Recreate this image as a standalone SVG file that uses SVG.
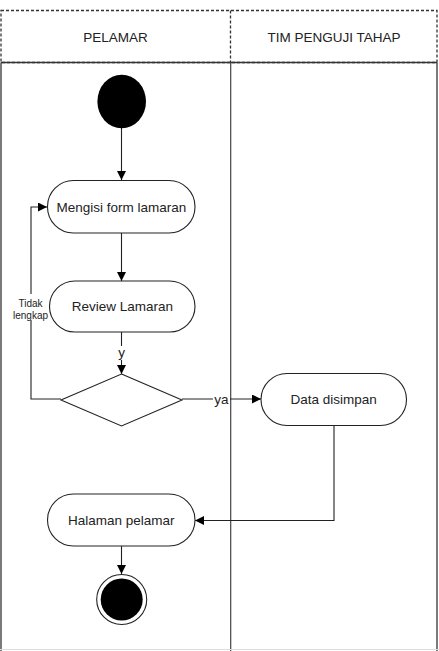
<svg xmlns="http://www.w3.org/2000/svg" width="439" height="651" viewBox="0 0 439 651">
<style>
text{font-family:"Liberation Sans",Arial,sans-serif;fill:#222;}
.lbl{font-size:13.5px;text-anchor:middle;dominant-baseline:central;}
.sm{font-size:10px;text-anchor:middle;}
.node{fill:#fff;stroke:#222;stroke-width:1.1;}
.edge{fill:none;stroke:#222;stroke-width:1.1;}
.lane{fill:none;stroke:#333;stroke-width:1.3;}
.dash{fill:none;stroke:#333;stroke-width:1.3;stroke-dasharray:3,2;}
</style>
<defs>
<marker id="arr" viewBox="0 0 10 10" refX="10" refY="5" markerWidth="9" markerHeight="9" markerUnits="userSpaceOnUse" orient="auto">
<path d="M0,0 L10,5 L0,10 z" fill="#000"/>
</marker>
</defs>
<rect width="439" height="651" fill="#fff"/>
<g id="swimlanes">
<rect x="1" y="10.5" width="436" height="52" class="dash"/>
<line x1="230.5" y1="10.5" x2="230.5" y2="62.5" class="dash"/>
<line x1="1" y1="62.5" x2="437" y2="62.5" class="lane"/>
<line x1="1" y1="62.5" x2="1" y2="651" class="lane"/>
<line x1="437" y1="62.5" x2="437" y2="651" class="lane"/>
<line x1="230.7" y1="62.5" x2="230.7" y2="651" stroke="#444" stroke-width="1.2"/>
<line x1="0" y1="649.5" x2="439" y2="649.5" stroke="#ddd" stroke-width="1"/>
<text class="lbl" x="115.5" y="37">PELAMAR</text>
<text class="lbl" x="334" y="37">TIM PENGUJI TAHAP</text>
</g>
<g id="connectors">
<line x1="121.5" y1="128" x2="121.5" y2="180" class="edge" marker-end="url(#arr)"/>
<line x1="121.5" y1="233" x2="121.5" y2="281" class="edge" marker-end="url(#arr)"/>
<line x1="121.5" y1="332" x2="121.5" y2="374" class="edge" marker-end="url(#arr)"/>
<rect x="115" y="346" width="13" height="14" fill="#fff"/>
<text class="lbl" x="121.5" y="352">y</text>
<polyline points="61,399 31,399 31,207 47,207" class="edge" marker-end="url(#arr)"/>
<rect x="14" y="294" width="34" height="26" fill="#fff"/>
<text class="sm" x="30.5" y="307">Tidak</text>
<text class="sm" x="30.5" y="319">lengkap</text>
<line x1="182" y1="399" x2="261" y2="399" class="edge" marker-end="url(#arr)"/>
<rect x="213" y="392" width="17" height="14" fill="#fff"/>
<text class="lbl" x="221.5" y="399">ya</text>
<polyline points="334,425.5 334,520.5 195,520.5" class="edge" marker-end="url(#arr)"/>
<line x1="121.5" y1="546" x2="121.5" y2="574" class="edge" marker-end="url(#arr)"/>
</g>
<g id="start">
<ellipse cx="121.7" cy="101.5" rx="24.3" ry="26.7" fill="#000"/>
</g>
<g id="mengisi">
<rect x="47.5" y="180.5" width="147.5" height="52.5" rx="26" class="node"/>
<text class="lbl" x="121.3" y="207">Mengisi form lamaran</text>
</g>
<g id="review">
<rect x="49.5" y="281" width="145.5" height="51" rx="25.5" class="node"/>
<text class="lbl" x="122.3" y="306.5">Review Lamaran</text>
</g>
<g id="decision">
<polygon points="121.5,374 182,400 121.5,426 61,400" class="node"/>
</g>
<g id="data">
<rect x="261" y="373.5" width="145.5" height="52" rx="26" class="node"/>
<text class="lbl" x="333.7" y="399.5">Data disimpan</text>
</g>
<g id="halaman">
<rect x="47.5" y="494" width="147.5" height="52" rx="26" class="node"/>
<text class="lbl" x="121.3" y="520">Halaman pelamar</text>
</g>
<g id="end">
<circle cx="121.7" cy="599.5" r="25" fill="#fff" stroke="#222" stroke-width="1.1"/>
<circle cx="121.7" cy="599.5" r="21" fill="#000"/>
</g>
</svg>
